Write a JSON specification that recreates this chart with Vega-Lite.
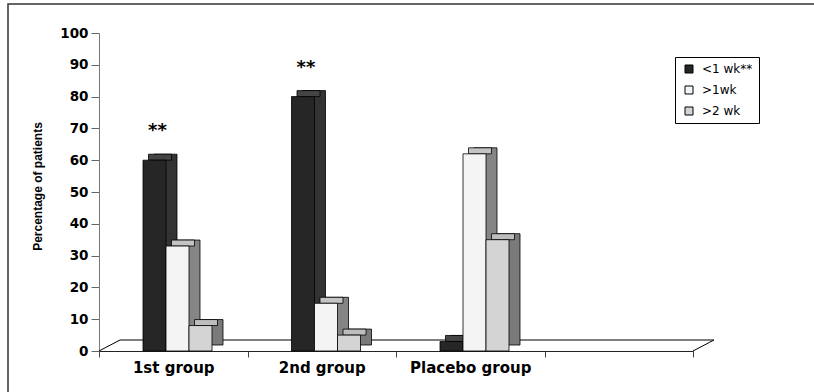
{
  "$schema": "https://vega.github.io/schema/vega-lite/v6.json",
  "width": 812,
  "height": 400,
  "autosize": {"type": "none"},
  "padding": {"left": 8, "top": 4, "right": 0, "bottom": 0},
  "background": "white",
  "config": {
    "view": {"stroke": "#333333", "strokeWidth": 1.5},
    "axisX": {
      "title": null,
      "offset": -53,
      "labelAngle": 0,
      "bandPosition": 0.5,
      "tickBand": "extent",
      "tickSize": 6,
      "tickColor": "#444444",
      "domainColor": "#222222",
      "domainWidth": 1.2,
      "labelFont": "DejaVu Sans",
      "labelFontWeight": "bold",
      "labelFontSize": 15,
      "labelColor": "#000000",
      "labelPadding": 3
    },
    "axisY": {
      "offset": -91,
      "grid": false,
      "tickSize": 8,
      "tickColor": "#666666",
      "domainColor": "#777777",
      "labelFont": "DejaVu Sans",
      "labelFontWeight": "bold",
      "labelFontSize": 13.5,
      "labelColor": "#000000",
      "labelPadding": 3,
      "titleFont": "Liberation Sans",
      "titleFontSize": 12,
      "titleFontWeight": "bold",
      "titleColor": "#000000",
      "titleX": -62,
      "titleY": 182,
      "titleAngle": 270,
      "titleAlign": "center",
      "titleBaseline": "middle"
    },
    "legend": {
      "orient": "none",
      "legendX": 667,
      "legendY": 53,
      "strokeColor": "#000000",
      "strokeWidth": 1,
      "padding": 6,
      "rowPadding": 9,
      "symbolType": "square",
      "symbolSize": 64,
      "symbolStrokeColor": "#000000",
      "symbolStrokeWidth": 1,
      "symbolOffset": 2,
      "labelFont": "DejaVu Sans",
      "labelFontSize": 12,
      "labelColor": "#000000",
      "labelOffset": 7
    }
  },
  "datasets": {
    "patients": [
      {"group": "1st group", "duration": "<1 wk**", "pct": 60, "note": "**"},
      {"group": "1st group", "duration": ">1wk", "pct": 33, "note": ""},
      {"group": "1st group", "duration": ">2 wk", "pct": 8, "note": ""},
      {"group": "2nd group", "duration": "<1 wk**", "pct": 80, "note": "**"},
      {"group": "2nd group", "duration": ">1wk", "pct": 15, "note": ""},
      {"group": "2nd group", "duration": ">2 wk", "pct": 5, "note": ""},
      {"group": "Placebo group", "duration": "<1 wk**", "pct": 3, "note": ""},
      {"group": "Placebo group", "duration": ">1wk", "pct": 62, "note": ""},
      {"group": "Placebo group", "duration": ">2 wk", "pct": 35, "note": ""}
    ],
    "floor": [{"part": "floor"}]
  },
  "layer": [
    {
      "data": {"name": "floor"},
      "mark": {"type": "rule", "color": "#000000", "strokeWidth": 1, "xOffset": 21, "x2Offset": 21, "yOffset": -11},
      "encoding": {
        "x": {"datum": "1st group", "type": "nominal", "bandPosition": 0, "axis": {"title": null}},
        "x2": {"datum": " ", "bandPosition": 1},
        "y": {
          "datum": 0,
          "type": "quantitative",
          "axis": {"title": "Percentage of patients", "values": [0, 10, 20, 30, 40, 50, 60, 70, 80, 90, 100]}
        }
      }
    },
    {
      "data": {"name": "floor"},
      "mark": {"type": "rule", "color": "#000000", "strokeWidth": 1, "x2Offset": 21, "y2Offset": -11},
      "encoding": {
        "x": {"datum": "1st group", "type": "nominal", "bandPosition": 0, "axis": {"title": null}},
        "x2": {"datum": "1st group", "bandPosition": 0},
        "y": {
          "datum": 0,
          "type": "quantitative",
          "axis": {"title": "Percentage of patients", "values": [0, 10, 20, 30, 40, 50, 60, 70, 80, 90, 100]}
        },
        "y2": {"datum": 0}
      }
    },
    {
      "data": {"name": "floor"},
      "mark": {"type": "rule", "color": "#000000", "strokeWidth": 1, "x2Offset": 21, "y2Offset": -11},
      "encoding": {
        "x": {"datum": " ", "type": "nominal", "bandPosition": 1, "axis": {"title": null}},
        "x2": {"datum": " ", "bandPosition": 1},
        "y": {
          "datum": 0,
          "type": "quantitative",
          "axis": {"title": "Percentage of patients", "values": [0, 10, 20, 30, 40, 50, 60, 70, 80, 90, 100]}
        },
        "y2": {"datum": 0}
      }
    },
    {
      "data": {"name": "patients"},
      "encoding": {
        "x": {
          "field": "group",
          "type": "nominal",
          "scale": {
            "domain": ["1st group", "2nd group", "Placebo group", " "],
            "range": [91, 685],
            "paddingInner": 0,
            "paddingOuter": 0
          },
          "axis": {"title": null}
        },
        "y": {
          "field": "pct",
          "type": "quantitative",
          "scale": {"domain": [0, 100], "range": [347, 29]},
          "axis": {"title": "Percentage of patients", "values": [0, 10, 20, 30, 40, 50, 60, 70, 80, 90, 100]}
        }
      },
      "layer": [
        {
          "mark": {"type": "bar", "yOffset": -6, "y2Offset": -6, "stroke": "#000000", "strokeWidth": 0.8},
          "encoding": {
            "xOffset": {
              "field": "duration",
              "type": "nominal",
              "scale": {
                "domain": ["<1 wk**", ">1wk", ">2 wk"],
                "range": [55, 124],
                "paddingInner": 0,
                "paddingOuter": 0
              }
            },
            "fill": {
              "field": "duration",
              "type": "nominal",
              "scale": {
                "domain": ["<1 wk**", ">1wk", ">2 wk"],
                "range": ["#333333", "#858585", "#7a7a7a"]
              },
              "legend": null
            }
          }
        },
        {
          "mark": {"type": "bar", "yOffset": -6, "stroke": "#000000", "strokeWidth": 0.8},
          "encoding": {
            "xOffset": {
              "field": "duration",
              "type": "nominal",
              "scale": {
                "domain": ["<1 wk**", ">1wk", ">2 wk"],
                "range": [49.5, 118.5],
                "paddingInner": 0,
                "paddingOuter": 0
              }
            },
            "y2": {"field": "pct"},
            "fill": {
              "field": "duration",
              "type": "nominal",
              "scale": {
                "domain": ["<1 wk**", ">1wk", ">2 wk"],
                "range": ["#444444", "#c4c4c4", "#bdbdbd"]
              },
              "legend": null
            }
          }
        },
        {
          "encoding": {
            "xOffset": {
              "field": "duration",
              "type": "nominal",
              "scale": {
                "domain": ["<1 wk**", ">1wk", ">2 wk"],
                "range": [44, 113],
                "paddingInner": 0,
                "paddingOuter": 0
              }
            }
          },
          "layer": [
            {
              "mark": {"type": "bar", "stroke": "#000000", "strokeWidth": 0.8},
              "encoding": {
                "color": {
                  "field": "duration",
                  "type": "nominal",
                  "title": null,
                  "scale": {
                    "domain": ["<1 wk**", ">1wk", ">2 wk"],
                    "range": ["#262626", "#f4f4f4", "#d4d4d4"]
                  }
                }
              }
            },
            {
              "mark": {
                "type": "text",
                "dy": -29,
                "dx": 3,
                "font": "DejaVu Sans",
                "fontWeight": "bold",
                "fontSize": 18,
                "color": "#000000"
              },
              "encoding": {"text": {"field": "note"}}
            }
          ]
        }
      ],
      "resolve": {"scale": {"xOffset": "independent", "fill": "independent", "color": "independent"}}
    }
  ]
}
